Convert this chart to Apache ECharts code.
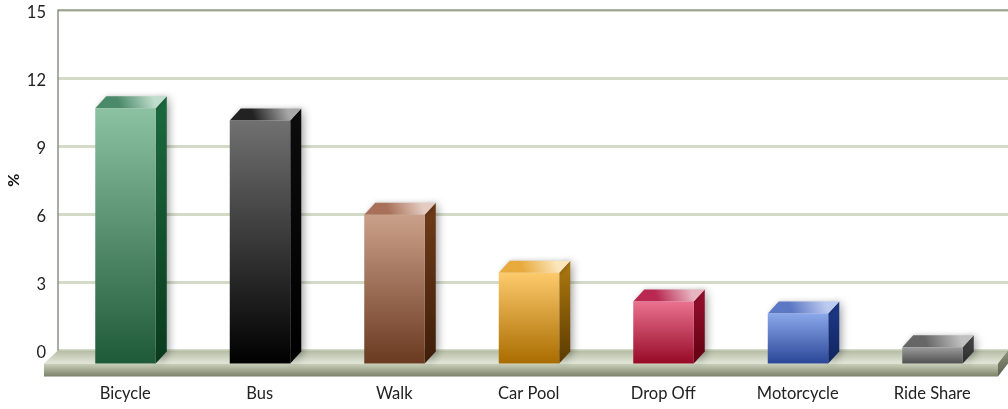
<!DOCTYPE html>
<html>
<head>
<meta charset="utf-8">
<style>html,body{margin:0;padding:0;background:#fff}#chart{width:1008px;height:409px}</style>
<script src="https://cdn.jsdelivr.net/npm/echarts@6/dist/echarts.min.js"></script>
</head>
<body>
<div id="chart"></div>
<script>
var categories = ['Bicycle', 'Bus', 'Walk', 'Car Pool', 'Drop Off', 'Motorcycle', 'Ride Share'];
var values = [11.25, 10.7, 6.55, 4.0, 2.73, 2.2, 0.72];
var yTicks = [0, 3, 6, 9, 12, 15];

// front top, front bottom, side top, side bottom, lid back, lid front
var boxColors = [
  ['#8cc2a2', '#1f5a38', '#1c6a3e', '#0a3a1e', '#c0dccc', '#4a8a68'],
  ['#707070', '#000000', '#0c0c0c', '#000000', '#a8a8a8', '#222222'],
  ['#cba08a', '#6a3a20', '#703c18', '#3e1e0a', '#e4ccc2', '#a87058'],
  ['#fdca6c', '#a96c00', '#b07a10', '#5a3a00', '#fbe6bc', '#e8aa3c'],
  ['#ea7290', '#960a26', '#9a1030', '#600010', '#e8b4c0', '#b82850'],
  ['#8ba8ea', '#2a4698', '#1e3a8a', '#10245e', '#bccaf0', '#5c78c4'],
  ['#9c9c9c', '#505050', '#4c4c4c', '#2a2a2a', '#c0c0c0', '#666666']
];

var frontY = 13, depthX = 11, depthY = 12;
var barW = 60;

function vgrad(a, b) {
  return new echarts.graphic.LinearGradient(0, 0, 0, 1, [{offset: 0, color: a}, {offset: 1, color: b}]);
}

function lidGrad(back, front) {
  return new echarts.graphic.LinearGradient(0.8, 0, 0.35, 1, [{offset: 0, color: back}, {offset: 1, color: front}]);
}

function poly(points, fill, extra) {
  var el = {type: 'polygon', shape: {points: points}, style: {fill: fill}};
  if (extra) el.style.shadowBlur = extra.blur, el.style.shadowColor = extra.color, el.style.shadowOffsetX = extra.x;
  return el;
}

function renderBox(params, api) {
  var i = api.value(0);
  var top = api.coord([i, api.value(1)]);
  var base = api.coord([i, 0]);
  var c = boxColors[i];
  var l = top[0] - barW / 2, r = l + barW + 0.5;
  var t = top[1] + frontY, b = base[1] + frontY;
  return {
    type: 'group',
    children: [
      poly([[r, t], [r + depthX, t - depthY], [r + depthX, b - depthY], [r, b]], vgrad(c[2], c[3]),
        {blur: 8, color: 'rgba(0,0,0,0.4)', x: 2}),
      poly([[l, t], [r, t], [r + depthX, t - depthY], [l + depthX, t - depthY]], lidGrad(c[4], c[5]),
        {blur: 5, color: 'rgba(0,0,0,0.25)', x: 1}),
      poly([[l, t], [r, t], [r, b], [l, b]], vgrad(c[0], c[1]))
    ]
  };
}

// floor slab under the bars, sized from the wall grid
function renderFloor(params) {
  var s = params.coordSys;
  var x0 = s.x, x1 = s.x + s.width, y = s.y + s.height;
  return {
    type: 'group',
    children: [
      poly([[x0, y], [x1, y], [x1 - 10, y + frontY], [x0 - 14, y + frontY]], vgrad('#b4bca4', '#e2e6d8')),
      poly([[x0 - 14, y + frontY], [x1 - 10, y + frontY], [x1 - 10, y + frontY + 13], [x0 - 14, y + frontY + 13]],
        vgrad('#ccd2bc', '#7a8268')),
      poly([[x1 - 10, y + frontY], [x1, y], [x1, y + 13], [x1 - 10, y + frontY + 13]], vgrad('#8a927a', '#5a6250'))
    ]
  };
}

var font = 'Lato';
var chart = echarts.init(document.getElementById('chart'), null, {renderer: 'canvas'});
var option = {
  animation: false,
  backgroundColor: '#fff',
  textStyle: {fontFamily: font},
  grid: [
    {left: 58, right: 0, top: 10, height: 340.5, outerBoundsMode: 'none'},
    {left: 58, width: 941.5, top: 10, height: 340.5, outerBoundsMode: 'none'}
  ],
  xAxis: [
    {gridIndex: 0, type: 'value', min: 0, max: 1, show: false},
    {
      gridIndex: 1, type: 'category', data: categories,
      axisLine: {show: false}, axisTick: {show: false},
      axisLabel: {color: '#222', fontSize: 16.5, fontFamily: font, margin: 35}
    }
  ],
  yAxis: [
    {
      gridIndex: 0, type: 'value', min: 0, max: 15, interval: 3,
      name: '%', nameLocation: 'middle', nameGap: 36, nameRotate: 90, nameMoveOverlap: false,
      nameTextStyle: {color: '#111', fontSize: 16, fontWeight: 'bold', fontFamily: font},
      axisLine: {show: true, lineStyle: {color: '#8c9084', width: 1.5}},
      axisTick: {show: false},
      axisLabel: {
        color: '#222', fontSize: 16.5, fontFamily: font, margin: 12,
        formatter: function (v) { return yTicks.indexOf(v) >= 0 ? '{t|' + v + '}' : ''; },
        rich: {t: {fontSize: 16.5, fontFamily: font, color: '#222', padding: [5, 0, 0, 0]}}
      },
      splitLine: {show: true, lineStyle: {width: 3, color: '#d3dac6'}}
    },
    {gridIndex: 1, type: 'value', min: 0, max: 15, interval: 3, show: false}
  ],
  series: [
    {
      type: 'custom', xAxisIndex: 0, yAxisIndex: 0, z: 2, silent: true,
      renderItem: renderFloor, data: [[0, 0]], clip: false
    },
    {
      type: 'line', xAxisIndex: 0, yAxisIndex: 0, z: 2, silent: true, symbol: 'none',
      data: [[0, 15], [1, 15]], lineStyle: {color: '#8c9084', width: 1.5}
    },
    {
      type: 'custom', xAxisIndex: 1, yAxisIndex: 1, z: 3, silent: true,
      renderItem: renderBox, clip: false,
      encode: {x: 0, y: 1},
      data: values.map(function (v, i) { return [i, v]; })
    }
  ]
};
chart.setOption(option);
</script>
</body>
</html>
